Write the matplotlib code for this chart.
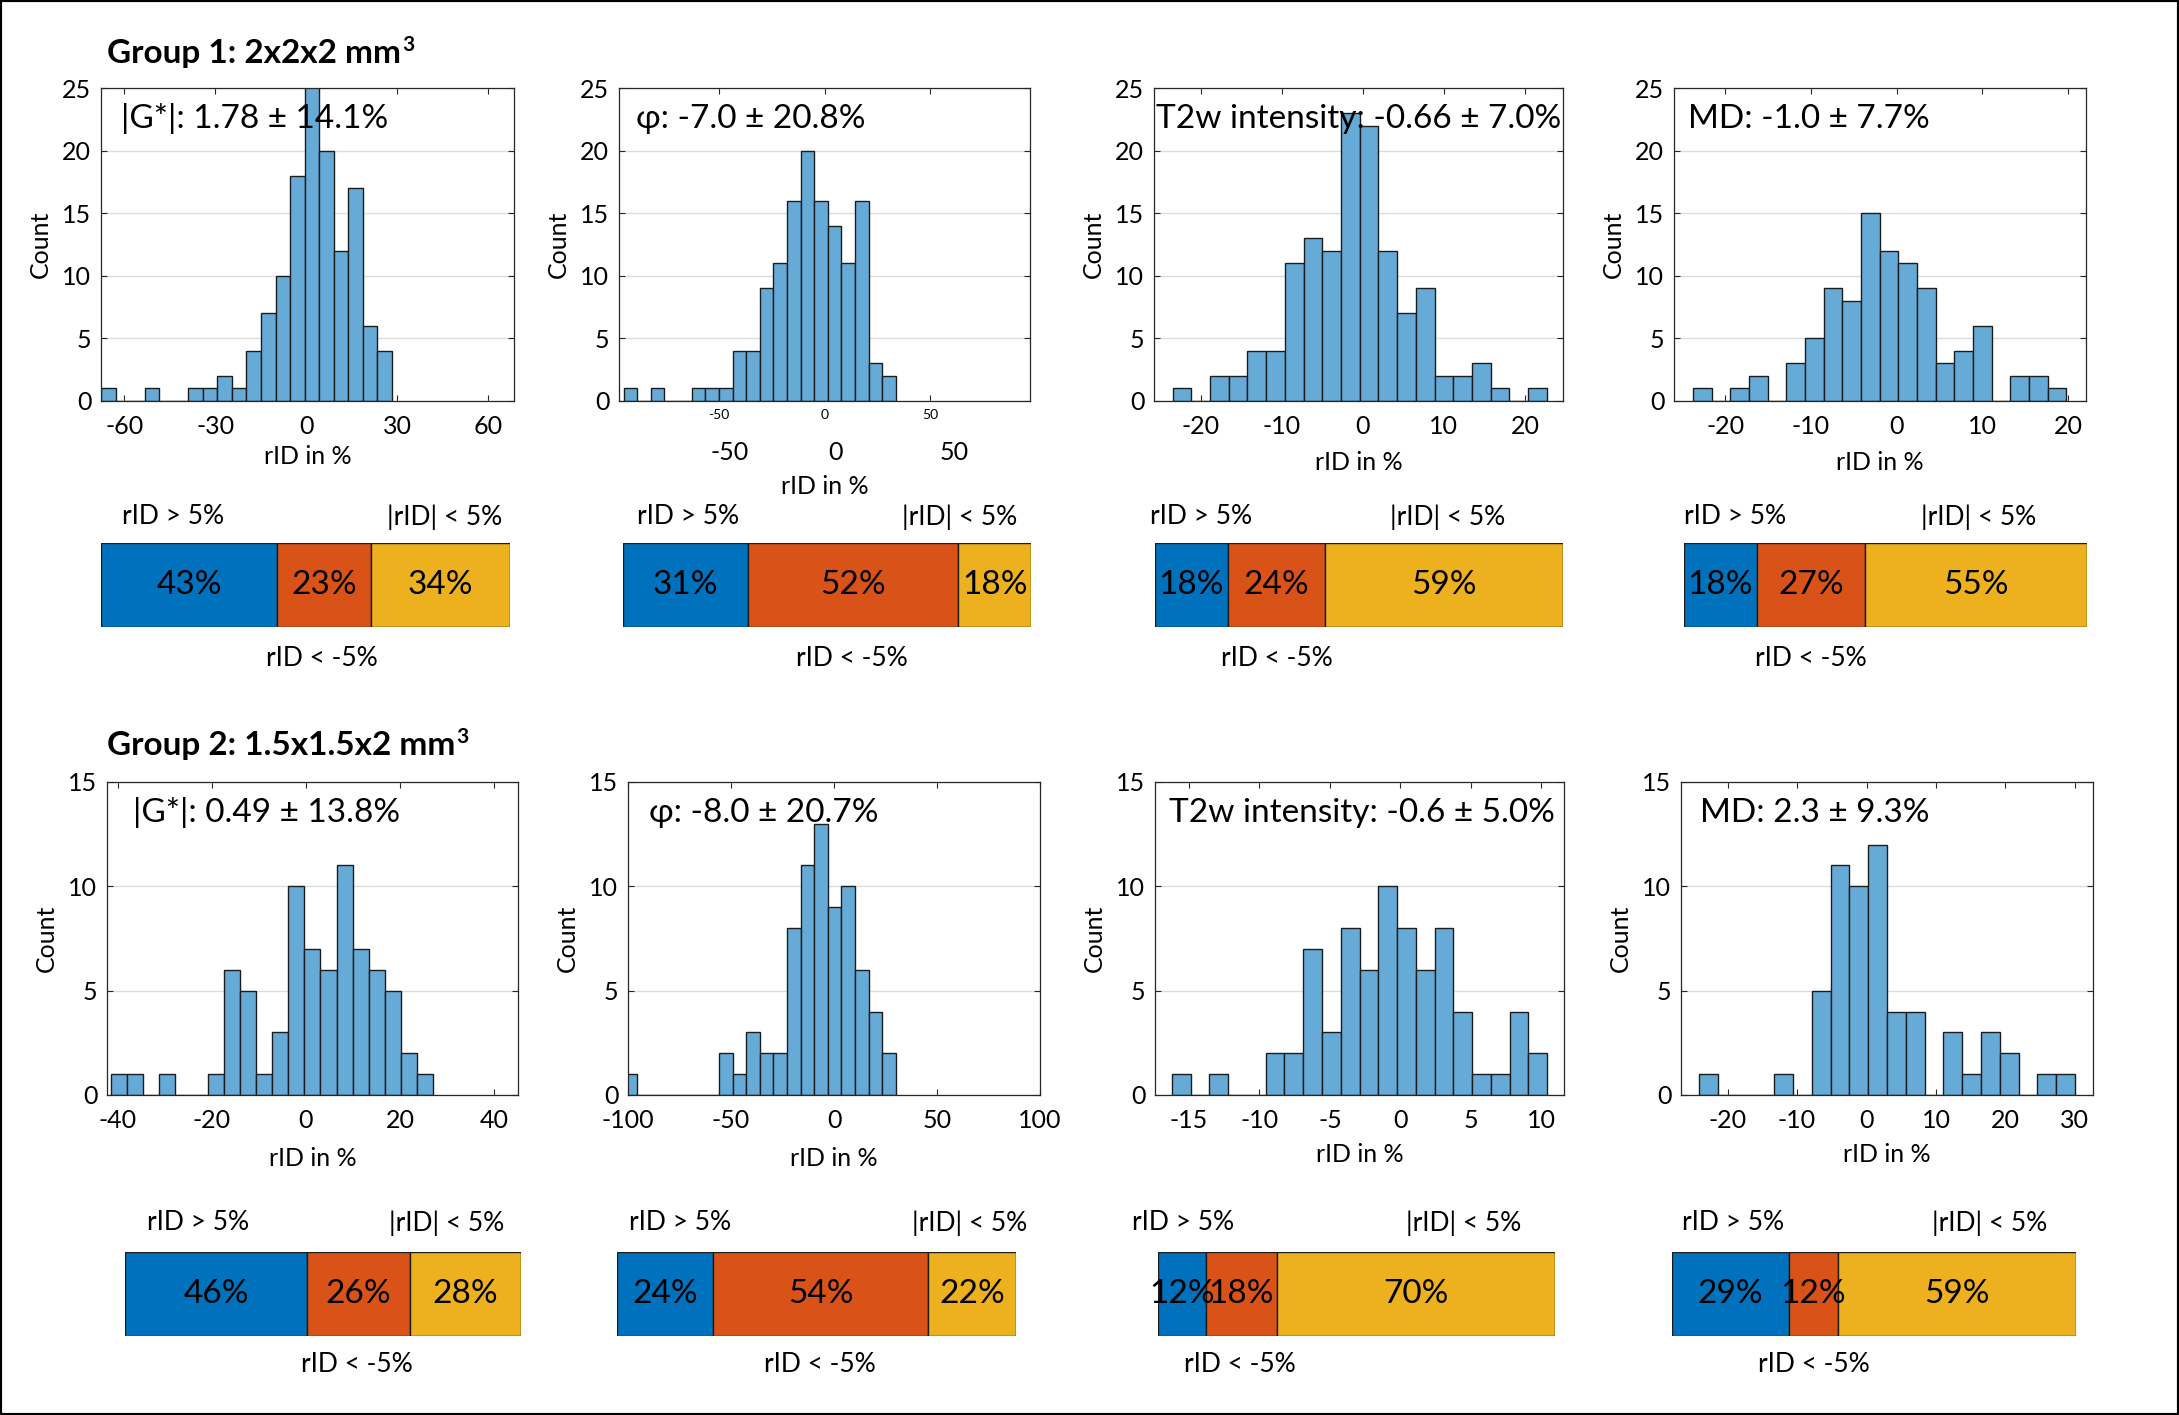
import matplotlib
matplotlib.use("Agg")
import matplotlib.pyplot as plt
from matplotlib.patches import Rectangle
import matplotlib.transforms as mtrans

plt.rcParams['font.family'] = ['Lato', 'DejaVu Sans']
plt.rcParams['axes.unicode_minus'] = False

W, H, DPI = 2179, 1415, 100

# ---- data ----
group_titles = ["Group 1: 2x2x2 mm", "Group 2: 1.5x1.5x2 mm"]

g1_labels = ["|G*|: 1.78 ± 14.1%", "φ: -7.0 ± 20.8%",
             "T2w intensity: -0.66 ± 7.0%", "MD: -1.0 ± 7.7%"]
g1_counts = [
    [1, 0, 0, 1, 0, 0, 1, 1, 2, 1, 4, 7, 10, 18, 26, 20, 12, 17, 6, 4],
    [1, 0, 1, 0, 0, 1, 1, 1, 4, 4, 9, 11, 16, 20, 16, 14, 11, 16, 3, 2],
    [1, 0, 2, 2, 4, 4, 11, 13, 12, 23, 22, 12, 7, 9, 2, 2, 3, 1, 0, 1],
    [1, 0, 1, 2, 0, 3, 5, 9, 8, 15, 12, 11, 9, 3, 4, 6, 0, 2, 2, 1],
]
g1_bin_start = [-67.7, -95.3, -23.5, -23.8]
g1_bin_width = [4.8, 6.45, 2.31, 2.18]
g1_xlim = [(-67.7, 68.6), (-97.5, 97.3), (-25.8, 24.7), (-26.0, 22.1)]
g1_xticks = [[-60, -30, 0, 30, 60], [-50, 0, 50],
             [-20, -10, 0, 10, 20], [-20, -10, 0, 10, 20]]
g1_split = [[43, 23, 34], [31, 52, 18], [18, 24, 59], [18, 27, 55]]

g2_labels = ["|G*|: 0.49 ± 13.8%", "φ: -8.0 ± 20.7%",
             "T2w intensity: -0.6 ± 5.0%", "MD: 2.3 ± 9.3%"]
g2_counts = [
    [1, 1, 0, 1, 0, 0, 1, 6, 5, 1, 3, 10, 7, 6, 11, 7, 6, 5, 2, 1],
    [1, 0, 0, 0, 0, 0, 0, 2, 1, 3, 2, 2, 8, 11, 13, 9, 10, 6, 4, 2],
    [1, 0, 1, 0, 0, 2, 2, 7, 3, 8, 6, 10, 8, 6, 8, 4, 1, 1, 4, 2],
    [1, 0, 0, 0, 1, 0, 5, 11, 10, 12, 4, 4, 0, 3, 1, 3, 2, 0, 1, 1],
]
g2_bin_start = [-41.5, -102.0, -16.2, -24.1]
g2_bin_width = [3.43, 6.6, 1.33, 2.705]
g2_xlim = [(-42.3, 45.1), (-100, 100), (-17.4, 11.6), (-26.7, 32.6)]
g2_xticks = [[-40, -20, 0, 20, 40], [-100, -50, 0, 50, 100],
             [-15, -10, -5, 0, 5, 10], [-20, -10, 0, 10, 20, 30]]
g2_split = [[46, 26, 28], [24, 54, 22], [12, 18, 70], [29, 12, 59]]

cat_labels = ["rID > 5%", "rID < -5%", "|rID| < 5%"]

# ---- layout (pixels) ----
hist_box = [
    [(101, 88, 514, 401), (619, 88, 1030, 401), (1154, 88, 1563, 401), (1674, 88, 2086, 401)],
    [(107, 782, 518, 1095), (628, 782, 1040, 1095), (1155, 782, 1564, 1095), (1681, 782, 2093, 1095)],
]
bar_box = [
    [(101, 543, 510, 627), (623, 543, 1031, 627), (1155, 543, 1563, 627), (1684, 543, 2087, 627)],
    [(125, 1252, 521, 1336), (617, 1252, 1016, 1336), (1158, 1252, 1555, 1336), (1672, 1252, 2076, 1336)],
]
annot_off = [[20, 17, 2, 14], [26, 21, 14, 19]]
xlabel_off = [[55, 85, 62, 62], [64, 64, 59, 59]]
# label x positions as fraction of bar width: (>5, <-5, |<5|)
lab_pos = [
    [(0.176, 0.540, 0.839), (0.159, 0.561, 0.824), (0.113, 0.299, 0.718), (0.127, 0.315, 0.730)],
    [(0.184, 0.586, 0.811), (0.158, 0.509, 0.885), (0.063, 0.207, 0.771), (0.151, 0.351, 0.787)],
]
title_y = [54, 746]

hist_color = (0.4, 0.668, 0.845)
seg_colors = ["#0072BD", "#D95319", "#EDB120"]
axcol = "#262626"

fig = plt.figure(figsize=(W / DPI, H / DPI), dpi=DPI)


def rect(l, t, r, b):
    return [l / W, 1 - b / H, (r - l) / W, (b - t) / H]


def off_text(ax, txt, x, y, dx, dy, **kw):
    ax.annotate(txt, xy=(x, y), xycoords='axes fraction', xytext=(dx, dy),
                textcoords='offset pixels', annotation_clip=False, **kw)


groups = [
    (g1_labels, g1_counts, g1_bin_start, g1_bin_width, g1_xlim, g1_xticks, g1_split, 25),
    (g2_labels, g2_counts, g2_bin_start, g2_bin_width, g2_xlim, g2_xticks, g2_split, 15),
]

renderer = fig.canvas.get_renderer()

for gi, (labels, counts, starts, widths, xlims, xticks, splits, ymax) in enumerate(groups):
    t = fig.text(107 / W, 1 - title_y[gi] / H, group_titles[gi], fontsize=24,
                 fontweight='bold', ha='left', va='center')
    bb = t.get_window_extent(renderer)
    # superscript 3 of mm³
    fig.text(bb.x1 / W + 1 / W, 1 - (title_y[gi] - 9) / H, "3", fontsize=15,
             fontweight='bold', ha='left', va='center')
    for k in range(4):
        ax = fig.add_axes(rect(*hist_box[gi][k]))
        edges = [starts[k] + i * widths[k] for i in range(len(counts[k]))]
        ax.bar(edges, counts[k], width=widths[k], align='edge', color=hist_color,
               edgecolor='#1c1c1c', linewidth=1.0, zorder=2)
        ax.set_xlim(*xlims[k])
        ax.set_ylim(0, ymax)
        ax.set_yticks(range(0, ymax + 1, 5))
        ax.set_xticks(xticks[k])
        ax.grid(axis='y', color='#dcdcdc', linewidth=1.0, zorder=0)
        ax.set_axisbelow(True)
        for s in ax.spines.values():
            s.set_color(axcol)
            s.set_linewidth(0.9)
        ax.tick_params(direction='in', top=True, right=True, length=4, width=0.8,
                       color=axcol, labelsize=18, pad=10)
        ax.tick_params(axis='y', pad=7)
        if gi == 0 and k == 1:
            # small original tick labels plus larger overlaid ones
            ax.tick_params(axis='x', labelsize=10, pad=6)
            tr = mtrans.blended_transform_factory(ax.transData, ax.transAxes)
            for xv, lab in zip([-45.3, 5, 61.4], ["-50", "0", "50"]):
                ax.text(xv, -52 / 313, lab, transform=tr, fontsize=18,
                        ha='center', va='center')
        off_text(ax, labels[k], 0, 1, annot_off[gi][k], -31, fontsize=24,
                 ha='left', va='center')
        off_text(ax, "rID in %", 0.5, 0, 0, -xlabel_off[gi][k], fontsize=18,
                 ha='center', va='center')
        off_text(ax, "Count", 0, 0.5, -61, 0, fontsize=18, rotation=90,
                 ha='center', va='center')

        # stacked percentage bar
        bx = fig.add_axes(rect(*bar_box[gi][k]))
        vals = splits[k]
        left = 0
        for v, c in zip(vals, seg_colors):
            bx.barh(0, v, left=left, height=1, color=c, edgecolor='#1c1c1c', linewidth=1)
            bx.text(left + v / 2, 0, f"{v}%", ha='center', va='center', fontsize=24)
            left += v
        bx.set_xlim(0, left)
        bx.set_ylim(-0.5, 0.5)
        bx.axis('off')
        p = lab_pos[gi][k]
        top_off = 26 if gi == 0 else 29
        bot_off = 32 if gi == 0 else 29
        off_text(bx, cat_labels[0], p[0], 1, 0, top_off, fontsize=19, ha='center', va='center')
        off_text(bx, cat_labels[2], p[2], 1, 0, top_off, fontsize=19, ha='center', va='center')
        off_text(bx, cat_labels[1], p[1], 0, 0, -bot_off, fontsize=19, ha='center', va='center')

fig.patches.append(Rectangle((0, 0), 1, 1, transform=fig.transFigure, fill=False,
                             linewidth=3, edgecolor='black'))

fig.savefig("out.png", dpi=DPI)
